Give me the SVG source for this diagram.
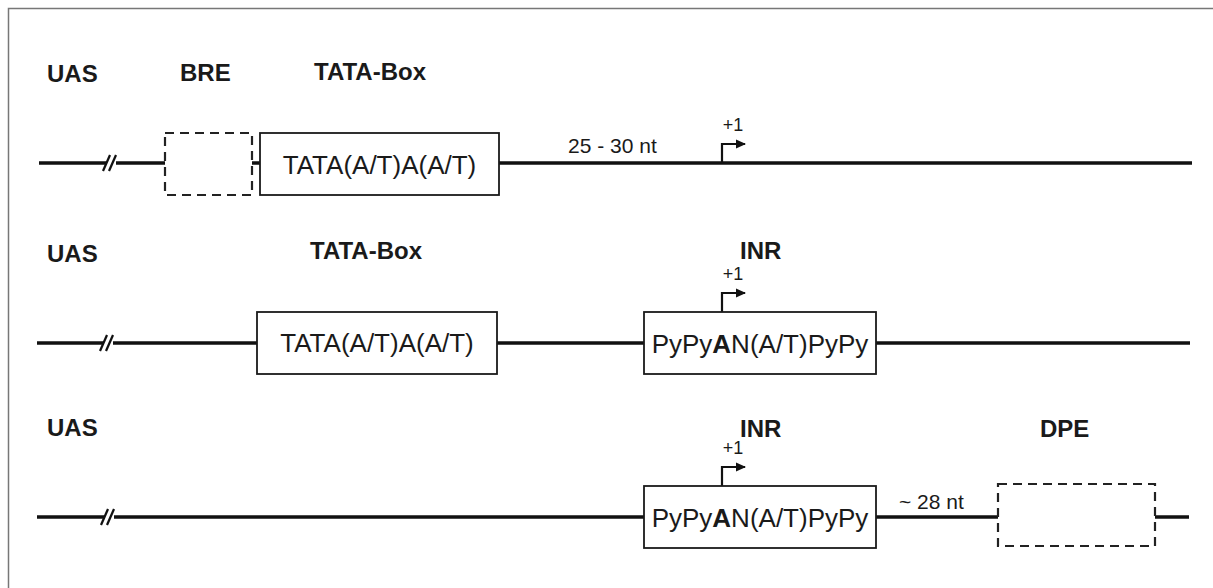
<svg xmlns="http://www.w3.org/2000/svg" width="1213" height="588" viewBox="0 0 1213 588">
<defs>
<marker id="ah" markerWidth="10" markerHeight="10" refX="9" refY="5" orient="auto" markerUnits="userSpaceOnUse">
<path d="M0,0.5 L10,5 L0,9.5 Z" fill="#111"/>
</marker>
<style>
.lbl{font-family:"Liberation Sans",Arial,sans-serif;font-weight:bold;font-size:24px;fill:#1a1a1a}
.seq{font-family:"Liberation Sans",Arial,sans-serif;font-size:26px;fill:#1a1a1a}
.nt{font-family:"Liberation Sans",Arial,sans-serif;font-size:21px;fill:#1a1a1a}
.p1{font-family:"Liberation Sans",Arial,sans-serif;font-size:18px;fill:#1a1a1a}
.dna{stroke:#111;stroke-width:3.5;fill:none}
.box{stroke:#1a1a1a;stroke-width:1.8;fill:#fff}
.dbox{stroke:#222;stroke-width:2.2;fill:none;stroke-dasharray:9,6}
.brk{stroke:#111;stroke-width:2.2;fill:none}
.tss{stroke:#111;stroke-width:2.2;fill:none}
</style>
</defs>
<rect x="0" y="0" width="1213" height="588" fill="#fff"/>
<path d="M8.5,600 L8.5,8.5 L1220,8.5" stroke="#777" stroke-width="1.5" fill="none"/>

<g id="connectors">
<!-- row 1 -->
<line class="dna" x1="39" y1="163" x2="165" y2="163"/>
<line class="dna" x1="252" y1="163" x2="260" y2="163"/>
<line class="dna" x1="499" y1="163" x2="1192" y2="163"/>
<line x1="107" y1="163" x2="116" y2="163" stroke="#fff" stroke-width="5"/>
<line class="brk" x1="103" y1="171" x2="110" y2="155"/>
<line class="brk" x1="109" y1="171" x2="116" y2="155"/>
<!-- row 2 -->
<line class="dna" x1="37" y1="343" x2="257" y2="343"/>
<line class="dna" x1="497" y1="343" x2="644" y2="343"/>
<line class="dna" x1="876" y1="343" x2="1190" y2="343"/>
<line x1="104" y1="343" x2="113" y2="343" stroke="#fff" stroke-width="5"/>
<line class="brk" x1="100" y1="351" x2="107" y2="335"/>
<line class="brk" x1="106" y1="351" x2="113" y2="335"/>
<!-- row 3 -->
<line class="dna" x1="37" y1="517" x2="644" y2="517"/>
<line class="dna" x1="876" y1="517" x2="998" y2="517"/>
<line class="dna" x1="1155" y1="517" x2="1189" y2="517"/>
<line x1="105" y1="517" x2="114" y2="517" stroke="#fff" stroke-width="5"/>
<line class="brk" x1="101" y1="525" x2="108" y2="509"/>
<line class="brk" x1="107" y1="525" x2="114" y2="509"/>
<!-- TSS arrows -->
<path class="tss" d="M722,163 V144 H745" marker-end="url(#ah)"/>
<path class="tss" d="M722,312 V293 H745" marker-end="url(#ah)"/>
<path class="tss" d="M722,486 V467 H745" marker-end="url(#ah)"/>
</g>

<g id="row1">
<text class="lbl" x="47" y="82">UAS</text>
<text class="lbl" x="180" y="81">BRE</text>
<text class="lbl" x="314" y="80">TATA-Box</text>
<g id="bre1"><rect class="dbox" x="165" y="133" width="87" height="62"/></g>
<g id="tata1"><rect class="box" x="260" y="133" width="239" height="62"/>
<text class="seq" x="379.5" y="174" text-anchor="middle">TATA(A/T)A(A/T)</text></g>
<text class="nt" x="568" y="153">25 - 30 nt</text>
<text class="p1" x="733" y="131" text-anchor="middle">+1</text>
</g>

<g id="row2">
<text class="lbl" x="47" y="262">UAS</text>
<text class="lbl" x="310" y="259">TATA-Box</text>
<text class="lbl" x="740" y="259">INR</text>
<g id="tata2"><rect class="box" x="257" y="312" width="240" height="62"/>
<text class="seq" x="377" y="352" text-anchor="middle">TATA(A/T)A(A/T)</text></g>
<g id="inr2"><rect class="box" x="644" y="312" width="232" height="62"/>
<text class="seq" x="760" y="353" text-anchor="middle">PyPy<tspan font-weight="bold">A</tspan>N(A/T)PyPy</text></g>
<text class="p1" x="733" y="280" text-anchor="middle">+1</text>
</g>

<g id="row3">
<text class="lbl" x="47" y="436">UAS</text>
<text class="lbl" x="740" y="437">INR</text>
<text class="lbl" x="1040" y="437">DPE</text>
<g id="inr3"><rect class="box" x="644" y="486" width="232" height="62"/>
<text class="seq" x="760" y="527" text-anchor="middle">PyPy<tspan font-weight="bold">A</tspan>N(A/T)PyPy</text></g>
<g id="dpe3"><rect class="dbox" x="998" y="484" width="157" height="62"/></g>
<text class="nt" x="899" y="509">~ 28 nt</text>
<text class="p1" x="733" y="454" text-anchor="middle">+1</text>
</g>
</svg>
